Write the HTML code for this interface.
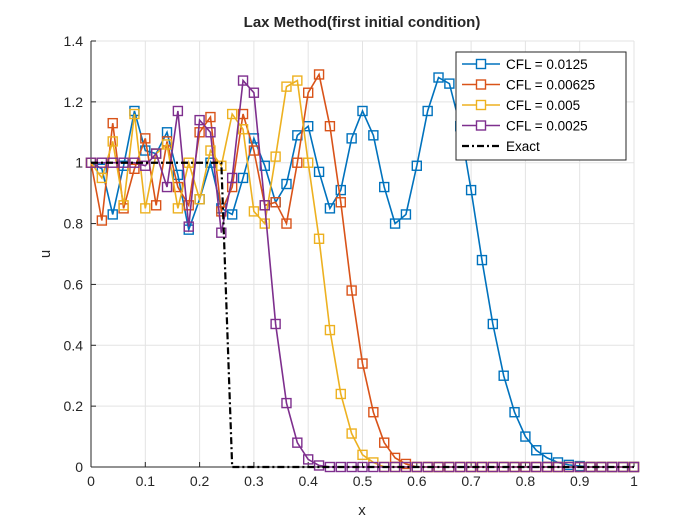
<!DOCTYPE html>
<html><head><meta charset="utf-8"><style>
body{margin:0;background:#fff}
svg{display:block;font-family:"Liberation Sans",Arial,sans-serif}
</style></head><body>
<svg id="chart" width="700" height="525">
<rect width="700" height="525" fill="#fff"/>
<g id="grid"></g>
<g id="axes"></g>
<g id="series"></g>
<text x="362" y="27" text-anchor="middle" font-weight="bold" font-size="15" fill="#262626">Lax Method(first initial condition)</text>
<text x="362" y="515" text-anchor="middle" font-size="15" fill="#262626">x</text>
<text x="50" y="254" text-anchor="middle" font-size="15" fill="#262626" transform="rotate(-90 50 254)">u</text>
<g id="legend"></g>
</svg>
<script>
const xTicks=[0,0.1,0.2,0.3,0.4,0.5,0.6,0.7,0.8,0.9,1];
const yTicks=[0,0.2,0.4,0.6,0.8,1,1.2,1.4];
const seriesNames=["CFL = 0.0125","CFL = 0.00625","CFL = 0.005","CFL = 0.0025"];
const cfl0125=[1.0,0.98,0.83,0.99,1.17,1.04,1.03,1.1,0.96,0.78,0.88,1.0,0.85,0.83,0.95,1.08,0.99,0.87,0.93,1.09,1.12,0.97,0.85,0.91,1.08,1.17,1.09,0.92,0.80,0.83,0.99,1.17,1.28,1.26,1.12,0.91,0.68,0.47,0.30,0.18,0.10,0.055,0.03,0.015,0.007,0.003,0,0,0,0,0];
const cfl00625=[1.0,0.81,1.13,0.85,0.98,1.08,0.86,1.07,0.92,0.86,1.1,1.15,0.84,0.92,1.16,1.04,0.86,0.87,0.80,1.0,1.23,1.29,1.12,0.87,0.58,0.34,0.18,0.08,0.03,0.01,0,0,0,0,0,0,0,0,0,0,0,0,0,0,0,0,0,0,0,0,0];
const cfl005=[1.0,0.95,1.07,0.86,1.16,0.85,1.03,1.06,0.85,1.0,0.88,1.04,0.99,1.16,1.11,0.84,0.80,1.02,1.25,1.27,1.0,0.75,0.45,0.24,0.11,0.04,0.015,0,0,0,0,0,0,0,0,0,0,0,0,0,0,0,0,0,0,0,0,0,0,0,0];
const cfl0025=[1.0,1.0,1.0,1.0,1.0,0.99,1.03,0.92,1.17,0.79,1.14,1.1,0.77,0.95,1.27,1.23,0.86,0.47,0.21,0.08,0.025,0.005,0,0,0,0,0,0,0,0,0,0,0,0,0,0,0,0,0,0,0,0,0,0,0,0,0,0,0,0,0];
const exactX=[0,0.24,0.26,1];
const exactY=[1,1,0,0];
const colors=["#0072BD","#D95319","#EDB120","#7E2F8E"];
const NS="http://www.w3.org/2000/svg";
const L=91,R=634,T=41,B=467;
const sx=v=>L+(R-L)*v;
const sy=v=>B-(B-T)*v/1.4;
function mk(tag,attrs,parent){const e=document.createElementNS(NS,tag);for(const k in attrs)e.setAttribute(k,attrs[k]);parent.appendChild(e);return e;}
const grid=document.getElementById('grid'),axes=document.getElementById('axes'),ser=document.getElementById('series'),leg=document.getElementById('legend');
xTicks.forEach(t=>{
 const g=mk('line',{x1:sx(t),x2:sx(t),y1:T,y2:B,stroke:'#e3e3e3','stroke-width':1},grid);
 
 
 mk('line',{x1:sx(t),x2:sx(t),y1:B,y2:B-5,stroke:'#262626'},axes);
 const lb=mk('text',{x:sx(t),y:B+19,'text-anchor':'middle','font-size':14,fill:'#262626'},axes);
 lb.textContent=String(t);
 
 
});
yTicks.forEach(t=>{
 const g=mk('line',{x1:L,x2:R,y1:sy(t),y2:sy(t),stroke:'#e3e3e3','stroke-width':1},grid);
 
 
 mk('line',{x1:L,x2:L+5,y1:sy(t),y2:sy(t),stroke:'#262626'},axes);
 const lb=mk('text',{x:L-8,y:sy(t)+5,'text-anchor':'end','font-size':14,fill:'#262626'},axes);
 lb.textContent=String(t);
 
 
});
mk('line',{x1:L,x2:R,y1:B,y2:B,stroke:'#262626'},axes);
mk('line',{x1:L,x2:L,y1:T,y2:B,stroke:'#262626'},axes);
[cfl0125,cfl00625,cfl005,cfl0025].forEach((arr,i)=>{
 const pts=arr.map((v,j)=>sx(j*0.02)+','+sy(v)).join(' ');
 const pl=mk('polyline',{points:pts,fill:'none',stroke:colors[i],'stroke-width':1.6},ser);
 
 
 arr.forEach((v,j)=>{
  const m=mk('rect',{x:sx(j*0.02)-4.5,y:sy(v)-4.5,width:9,height:9,fill:'none',stroke:colors[i],'stroke-width':1.4},ser);
  
  
 });
});
const ex=mk('polyline',{points:exactX.map((x,j)=>sx(x)+','+sy(exactY[j])).join(' '),fill:'none',stroke:'#000','stroke-width':2.2,'stroke-dasharray':'7,3,2,3'},ser);


mk('rect',{x:456,y:52,width:170,height:108,fill:'#fff',stroke:'#262626','stroke-width':1},leg);
const names=seriesNames.concat(["Exact"]);
names.forEach((n,i)=>{
 const y=64+i*20.5;
 const c=i<4?colors[i]:'#000';
 mk('line',{x1:462,x2:500,y1:y,y2:y,stroke:c,'stroke-width':i<4?1.6:2.2,'stroke-dasharray':i<4?'none':'7,3,2,3'},leg);
 if(i<4)mk('rect',{x:476.5,y:y-4.5,width:9,height:9,fill:'#fff',stroke:c,'stroke-width':1.4},leg);
 const t=mk('text',{x:506,y:y+5,'font-size':13.5,fill:'#000'},leg);
 t.textContent=n;
 
 
});
</script>
</body></html>
